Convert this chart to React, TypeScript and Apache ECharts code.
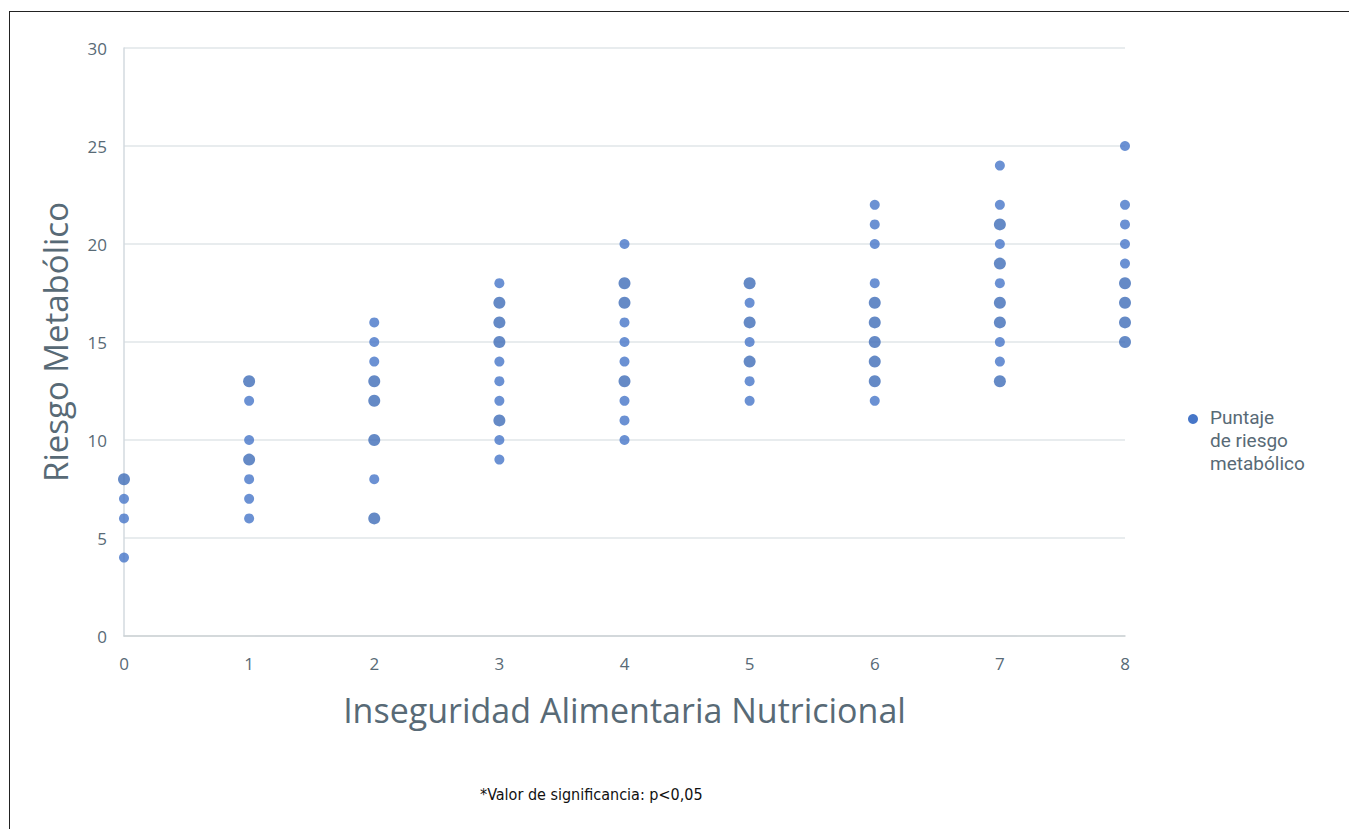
import React, { useEffect, useRef } from "react";
import * as echarts from "echarts";

// x category (Inseguridad Alimentaria Nutricional) and observed risk scores; repeated values = overlapping points
const xValues = [0, 1, 2, 3, 4, 5, 6, 7, 8];
const scores0 = [8, 8, 7, 6, 4];
const scores1 = [13, 13, 12, 10, 9, 9, 8, 7, 6];
const scores2 = [16, 15, 14, 13, 13, 12, 12, 10, 10, 8, 6, 6];
const scores3 = [18, 17, 17, 16, 16, 15, 15, 14, 13, 12, 11, 11, 10, 9];
const scores4 = [20, 18, 18, 17, 17, 16, 15, 14, 13, 13, 12, 11, 10];
const scores5 = [18, 18, 17, 16, 16, 15, 14, 14, 13, 12];
const scores6 = [22, 21, 20, 18, 17, 17, 16, 16, 15, 15, 14, 14, 13, 13, 12];
const scores7 = [24, 22, 21, 21, 20, 19, 19, 18, 17, 17, 16, 16, 15, 14, 13, 13];
const scores8 = [25, 22, 21, 20, 19, 18, 18, 17, 17, 16, 16, 15, 15];
const yTicks = [0, 5, 10, 15, 20, 25, 30];

const seriesName = "Puntaje de riesgo metabólico";
const legendLines = ["Puntaje", "de riesgo", "metabólico"];
const xTitle = "Inseguridad Alimentaria Nutricional";
const yTitle = "Riesgo Metabólico";
const footnote = "*Valor de significancia: p<0,05";

export default function App() {
  const ref = useRef<HTMLDivElement>(null);
  useEffect(() => {
    if (!ref.current) return;
    const chart = echarts.init(ref.current, undefined, { renderer: "svg" });
    const columns = [scores0, scores1, scores2, scores3, scores4, scores5, scores6, scores7, scores8];
    const points: { value: [number, number]; count: number }[] = [];
    columns.forEach((col, i) => {
      const counts = new Map<number, number>();
      col.forEach((v) => counts.set(v, (counts.get(v) || 0) + 1));
      counts.forEach((c, v) => {
        points.push({ value: [xValues[i], v], count: c });
      });
    });
    const font = "'Open Sans', 'Noto Sans', sans-serif";
    const grey = "#586a76";
    const legendText = legendLines.map((line, i) => ({
      type: "text",
      left: 1210,
      top: 408 + i * 23,
      style: {
        text: line,
        fontSize: 19,
        fill: grey,
        fontFamily: "Roboto, 'Open Sans', sans-serif",
      },
    }));
    chart.setOption({
      animation: false,
      textStyle: { fontFamily: font },
      grid: { left: 124, right: 232, top: 48, bottom: 201, containLabel: false },
      legend: { show: false, data: [seriesName] },
      xAxis: {
        type: "value",
        min: 0,
        max: 8,
        interval: 1,
        name: xTitle,
        nameLocation: "middle",
        nameGap: 57,
        nameTextStyle: { fontSize: 34, color: grey, fontFamily: font },
        axisLine: { show: true, lineStyle: { color: "#cdd2d5", width: 1.5 } },
        axisTick: { show: false },
        splitLine: { show: false },
        axisLabel: { fontSize: 17, color: grey, margin: 19, fontFamily: font },
      },
      yAxis: {
        type: "value",
        min: 0,
        max: 30,
        interval: 5,
        name: yTitle,
        nameLocation: "middle",
        nameGap: 52,
        nameTextStyle: { fontSize: 33, color: grey, fontFamily: font },
        axisLine: { show: true, lineStyle: { color: "#d3dadf", width: 1.5 } },
        axisTick: { show: false },
        splitLine: { show: true, lineStyle: { color: "#e1e6e9", width: 1.5 } },
        axisLabel: {
          fontSize: 17,
          color: grey,
          margin: 17,
          fontFamily: font,
          formatter: (v: number) => (yTicks.includes(v) ? String(v) : ""),
        },
      },
      graphic: [
        {
          type: "circle",
          shape: { cx: 1193, cy: 419, r: 5 },
          style: { fill: "#4676c8" },
        },
        ...legendText,
        {
          type: "text",
          left: 480,
          top: 786,
          style: {
            text: footnote,
            fontSize: 16,
            fill: "#111",
            fontFamily: "'DejaVu Sans Condensed', 'Liberation Sans Narrow', sans-serif",
          },
        },
      ],
      series: [
        {
          name: seriesName,
          type: "scatter",
          data: points,
          symbol: "circle",
          symbolSize: (_v: any, p: any) => (p.data.count > 1 ? 12 : 10),
          itemStyle: {
            color: (p: any) => (p.data.count > 1 ? "#3f6db8" : "#4676c8"),
            borderColor: "#2f5597",
            borderWidth: 0,
          },
          emphasis: { disabled: true },
        },
      ],
    });
    return () => chart.dispose();
  }, []);
  return (
    <div style={{ position: "relative", width: 1357, height: 837, margin: -8, overflow: "hidden", background: "#fff" }}>
      <div
        style={{
          position: "absolute",
          left: 9,
          top: 11,
          width: 1400,
          height: 900,
          borderLeft: "1.5px solid #222",
          borderTop: "1.5px solid #222",
        }}
      />
      <div ref={ref} style={{ position: "absolute", left: 0, top: 0, width: 1357, height: 837 }} />
    </div>
  );
}
